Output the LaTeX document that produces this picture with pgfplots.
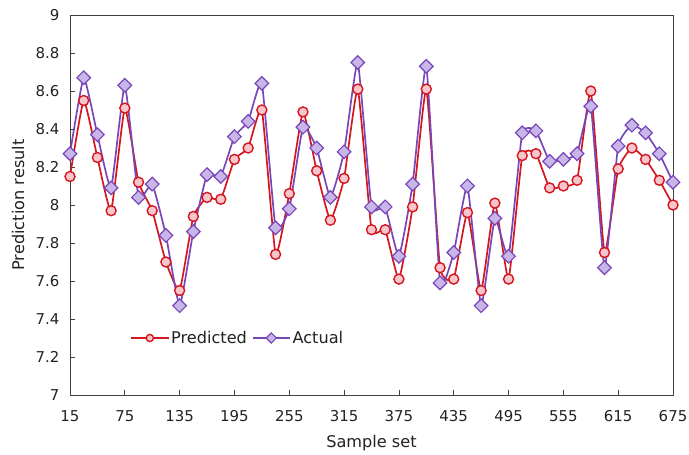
\documentclass[border=0pt]{standalone}
\usepackage{fontspec}
\setmainfont{DejaVu Sans}
\usepackage{pgfplots}
\pgfplotsset{compat=1.18}
\definecolor{predred}{RGB}{212,22,30}
\definecolor{predfill}{RGB}{246,198,204}
\definecolor{actpurple}{RGB}{120,70,184}
\definecolor{actfill}{RGB}{200,182,232}
\definecolor{axisgray}{RGB}{64,64,64}
\definecolor{txt}{RGB}{34,34,34}

\pgfplotstableread{
x pred act
15 8.15 8.27
30 8.55 8.67
45 8.25 8.37
60 7.97 8.09
75 8.51 8.63
90 8.12 8.04
105 7.97 8.11
120 7.70 7.84
135 7.55 7.47
150 7.94 7.86
165 8.04 8.16
180 8.03 8.15
195 8.24 8.36
210 8.30 8.44
225 8.50 8.64
240 7.74 7.88
255 8.06 7.98
270 8.49 8.41
285 8.18 8.30
300 7.92 8.04
315 8.14 8.28
330 8.61 8.75
345 7.87 7.99
360 7.87 7.99
375 7.61 7.73
390 7.99 8.11
405 8.61 8.73
420 7.67 7.59
435 7.61 7.75
450 7.96 8.10
465 7.55 7.47
480 8.01 7.93
495 7.61 7.73
510 8.26 8.38
525 8.27 8.39
540 8.09 8.23
555 8.10 8.24
570 8.13 8.27
585 8.60 8.52
600 7.75 7.67
615 8.19 8.31
630 8.30 8.42
645 8.24 8.38
660 8.13 8.27
675 8.00 8.12
}\datatable

\begin{document}
\begin{tikzpicture}
\begin{axis}[
  name=ax,
  scale only axis,
  width=603bp, height=380bp,
  xmin=15, xmax=675, ymin=7, ymax=9,
  xtick={15,75,...,675},
  ytick={7,7.2,...,9.01},
  /pgf/number format/assume math mode=true,
  tick align=inside,
  xtick pos=bottom, ytick pos=left,
  major tick length=5bp,
  axis line style={axisgray, line width=0.9pt},
  tick style={axisgray, line width=0.8pt},
  tick label style={font=\fontsize{15}{17}\selectfont, text=txt},
  xticklabel style={anchor=center, yshift=-21.5bp},
  yticklabel style={anchor=east, xshift=-7bp,
    /pgf/number format/fixed, /pgf/number format/precision=1},
  label style={font=\fontsize{16.2}{19}\selectfont, text=txt},
  xlabel={Sample set},
  ylabel={Prediction result},
  xlabel style={at={(axis description cs:0.5,-0.1263)}, anchor=center},
  ylabel style={at={(axis description cs:-0.0862,0.5)}, anchor=center},
  legend style={at={(0.095,0.15)}, anchor=west, draw=none, fill=none,
    font=\fontsize{16.2}{19}\selectfont, text=txt, legend columns=2,
    /tikz/every even column/.append style={column sep=3bp}},
  legend cell align=left,
  legend image code/.code={%
    \draw[mark repeat=2, mark phase=2, #1, mark size=3.6bp]
      plot coordinates {(0bp,0bp) (18.5bp,0bp) (37bp,0bp)};},
]
\addplot[predred, line width=1.7pt, smooth, tension=0.25,
  mark=*, mark size=5bp,
  mark options={fill=predfill, line width=1.4pt, draw=predred}]
  table[x=x, y=pred] {\datatable};
\addlegendentry{Predicted}
\addplot[actpurple, line width=1.7pt, smooth, tension=0.25,
  mark=square*, mark size=4.8bp,
  mark options={rotate=45, fill=actfill, line width=1.2pt, draw=actpurple}]
  table[x=x, y=act] {\datatable};
\addlegendentry{Actual}
\end{axis}
\pgfresetboundingbox
\path[use as bounding box] (ax.south west) ++(-70bp,-59bp) rectangle ([shift={(16bp,15bp)}]ax.north east);
\end{tikzpicture}
\end{document}
